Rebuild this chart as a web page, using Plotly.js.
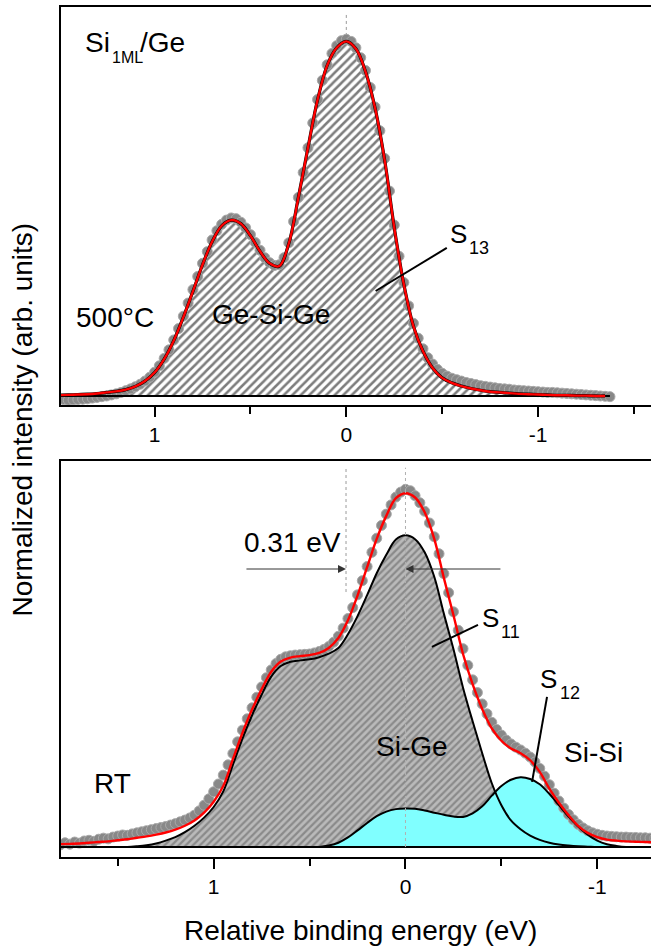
<!DOCTYPE html>
<html>
<head>
<meta charset="utf-8">
<script src="https://cdn.plot.ly/plotly-3.0.1.min.js"></script>
<style>
  html, body { margin: 0; padding: 0; overflow: hidden; background: #fff; }
  #chart { width: 670px; height: 948px; }
</style>
</head>
<body>
<div id="chart"></div>
<script>
// Si 2p core-level spectra of 1 ML Si on Ge: annealed at 500 °C (upper panel)
// and deposited at room temperature (lower panel). Energies are relative binding
// energies in eV, intensities are normalised to the maximum of the fit envelope.

// ---------- 500 °C: measured points ----------
const energy500 = [
  1.475, 1.45, 1.425, 1.4, 1.375, 1.35, 1.325, 1.3, 1.275, 1.25,
  1.225, 1.2, 1.175, 1.15, 1.125, 1.1, 1.075, 1.05, 1.025, 1.0,
  0.975, 0.95, 0.925, 0.9, 0.875, 0.85, 0.825, 0.8, 0.775, 0.75,
  0.725, 0.7, 0.675, 0.65, 0.625, 0.6, 0.575, 0.55, 0.525, 0.5,
  0.475, 0.45, 0.425, 0.4, 0.375, 0.35, 0.325, 0.3, 0.275, 0.25,
  0.225, 0.2, 0.175, 0.15, 0.125, 0.1, 0.075, 0.05, 0.025, 0.0,
  -0.025, -0.05, -0.075, -0.1, -0.125, -0.15, -0.175, -0.2, -0.225, -0.25,
  -0.275, -0.3, -0.325, -0.35, -0.375, -0.4, -0.425, -0.45, -0.475, -0.5,
  -0.525, -0.55, -0.575, -0.6, -0.625, -0.65, -0.675, -0.7, -0.725, -0.75,
  -0.775, -0.8, -0.825, -0.85, -0.875, -0.9, -0.925, -0.95, -0.975, -1.0,
  -1.025, -1.05, -1.075, -1.1, -1.125, -1.15, -1.175, -1.2, -1.225, -1.25,
  -1.275, -1.3, -1.325, -1.35, -1.375
];
const data500 = [
  -0.010, -0.012, -0.011, -0.010, -0.009, -0.008, -0.006, -0.004, -0.002, 0.000,
  0.003, 0.006, 0.010, 0.015, 0.020, 0.026, 0.033, 0.042, 0.053, 0.067,
  0.085, 0.106, 0.130, 0.158, 0.190, 0.225, 0.262, 0.300, 0.337, 0.374,
  0.407, 0.440, 0.466, 0.484, 0.496, 0.502, 0.500, 0.490, 0.474, 0.455,
  0.433, 0.411, 0.390, 0.376, 0.368, 0.370, 0.390, 0.432, 0.492, 0.560,
  0.630, 0.700, 0.770, 0.836, 0.890, 0.934, 0.966, 0.988, 1.002, 1.006,
  1.000, 0.982, 0.954, 0.918, 0.870, 0.815, 0.748, 0.670, 0.578, 0.482,
  0.394, 0.320, 0.254, 0.205, 0.163, 0.133, 0.108, 0.090, 0.075, 0.064,
  0.056, 0.050, 0.046, 0.042, 0.038, 0.035, 0.032, 0.029, 0.027, 0.025,
  0.023, 0.021, 0.020, 0.019, 0.017, 0.016, 0.015, 0.014, 0.013, 0.012,
  0.011, 0.010, 0.010, 0.009, 0.008, 0.007, 0.006, 0.005, 0.004, 0.003,
  0.002, 0.001, 0.000, -0.001, -0.002
];

// ---------- 500 °C: fit (one doublet, S13, which is also the envelope) ----------
const fitEnergy500 = [
  1.5, 1.45, 1.4, 1.35, 1.3, 1.25, 1.2, 1.15, 1.1, 1.05,
  1.0, 0.95, 0.9, 0.85, 0.8, 0.75, 0.7, 0.65, 0.6, 0.55,
  0.5, 0.45, 0.4, 0.35, 0.3, 0.25, 0.2, 0.15, 0.1, 0.05,
  0.0, -0.05, -0.1, -0.15, -0.2, -0.25, -0.3, -0.35, -0.4, -0.45,
  -0.5, -0.55, -0.6, -0.65, -0.7, -0.75, -0.8, -0.85, -0.9, -0.95,
  -1.0, -1.05, -1.1, -1.15, -1.2, -1.25, -1.3, -1.35
];
const s13_500 = [
  0.002, 0.003, 0.004, 0.005, 0.007, 0.010, 0.013, 0.018, 0.027, 0.042,
  0.066, 0.104, 0.156, 0.222, 0.295, 0.370, 0.435, 0.480, 0.496, 0.486,
  0.452, 0.408, 0.374, 0.366, 0.430, 0.560, 0.700, 0.835, 0.932, 0.982,
  1.000, 0.979, 0.915, 0.812, 0.665, 0.475, 0.315, 0.197, 0.126, 0.079,
  0.051, 0.037, 0.028, 0.021, 0.016, 0.012, 0.010, 0.008, 0.006, 0.005,
  0.004, 0.003, 0.002, 0.002, 0.001, 0.001, 0.000, 0.000
];

// ---------- RT: measured points ----------
const energyRT = [
  1.8, 1.775, 1.75, 1.725, 1.7, 1.675, 1.65, 1.625, 1.6, 1.575,
  1.55, 1.525, 1.5, 1.475, 1.45, 1.425, 1.4, 1.375, 1.35, 1.325,
  1.3, 1.275, 1.25, 1.225, 1.2, 1.175, 1.15, 1.125, 1.1, 1.075,
  1.05, 1.025, 1.0, 0.975, 0.95, 0.925, 0.9, 0.875, 0.85, 0.825,
  0.8, 0.775, 0.75, 0.725, 0.7, 0.675, 0.65, 0.625, 0.6, 0.575,
  0.55, 0.525, 0.5, 0.475, 0.45, 0.425, 0.4, 0.375, 0.35, 0.325,
  0.3, 0.275, 0.25, 0.225, 0.2, 0.175, 0.15, 0.125, 0.1, 0.075,
  0.05, 0.025, 0.0, -0.025, -0.05, -0.075, -0.1, -0.125, -0.15, -0.175,
  -0.2, -0.225, -0.25, -0.275, -0.3, -0.325, -0.35, -0.375, -0.4, -0.425,
  -0.45, -0.475, -0.5, -0.525, -0.55, -0.575, -0.6, -0.625, -0.65, -0.675,
  -0.7, -0.725, -0.75, -0.775, -0.8, -0.825, -0.85, -0.875, -0.9, -0.925,
  -0.95, -0.975, -1.0, -1.025, -1.05, -1.075, -1.1, -1.125, -1.15, -1.175,
  -1.2, -1.225, -1.25, -1.275, -1.3
];
const dataRT = [
  0.006, 0.012, 0.008, 0.014, 0.011, 0.017, 0.019, 0.016, 0.022, 0.025,
  0.023, 0.028, 0.031, 0.034, 0.033, 0.037, 0.040, 0.043, 0.046, 0.049,
  0.052, 0.055, 0.058, 0.062, 0.066, 0.071, 0.076, 0.082, 0.090, 0.102,
  0.118, 0.136, 0.156, 0.178, 0.203, 0.232, 0.264, 0.297, 0.330, 0.362,
  0.393, 0.423, 0.452, 0.478, 0.500, 0.518, 0.530, 0.537, 0.540, 0.542,
  0.543, 0.544, 0.545, 0.548, 0.552, 0.558, 0.566, 0.578, 0.595, 0.618,
  0.645, 0.676, 0.712, 0.752, 0.792, 0.832, 0.872, 0.908, 0.940, 0.966,
  0.988, 1.002, 1.010, 1.006, 0.992, 0.972, 0.948, 0.915, 0.876, 0.828,
  0.772, 0.718, 0.664, 0.612, 0.560, 0.513, 0.472, 0.436, 0.404, 0.376,
  0.352, 0.332, 0.316, 0.302, 0.291, 0.282, 0.274, 0.265, 0.254, 0.240,
  0.222, 0.200, 0.176, 0.152, 0.130, 0.110, 0.092, 0.077, 0.064, 0.054,
  0.046, 0.040, 0.036, 0.033, 0.031, 0.030, 0.029, 0.028, 0.028, 0.027,
  0.027, 0.026, 0.026, 0.025, 0.025
];

// ---------- RT: fit envelope and the two doublets S11 (Si-Ge) and S12 (Si-Si) ----------
const fitEnergyRT = [
  1.8, 1.75, 1.7, 1.65, 1.6, 1.55, 1.5, 1.45, 1.4, 1.35,
  1.3, 1.25, 1.2, 1.15, 1.1, 1.05, 1.0, 0.95, 0.9, 0.85,
  0.8, 0.75, 0.7, 0.65, 0.6, 0.55, 0.5, 0.45, 0.4, 0.35,
  0.3, 0.25, 0.2, 0.15, 0.1, 0.05, 0.0, -0.05, -0.1, -0.15,
  -0.2, -0.25, -0.3, -0.35, -0.4, -0.45, -0.5, -0.55, -0.6, -0.65,
  -0.7, -0.75, -0.8, -0.85, -0.9, -0.95, -1.0, -1.05, -1.1, -1.15,
  -1.2, -1.25, -1.3
];
const fitRT = [
  0.008, 0.009, 0.010, 0.012, 0.014, 0.016, 0.019, 0.022, 0.026, 0.030,
  0.035, 0.041, 0.049, 0.060, 0.075, 0.097, 0.128, 0.172, 0.248, 0.322,
  0.388, 0.445, 0.495, 0.524, 0.535, 0.539, 0.542, 0.548, 0.562, 0.590,
  0.640, 0.710, 0.790, 0.870, 0.935, 0.985, 0.999, 0.987, 0.945, 0.870,
  0.760, 0.655, 0.545, 0.460, 0.390, 0.335, 0.300, 0.278, 0.265, 0.245,
  0.212, 0.165, 0.125, 0.090, 0.060, 0.040, 0.028, 0.021, 0.018, 0.016,
  0.015, 0.014, 0.013
];
const s11RT = [
  0.000, 0.000, 0.000, 0.000, 0.000, 0.000, 0.000, 0.000, 0.002, 0.005,
  0.010, 0.018, 0.028, 0.042, 0.060, 0.083, 0.113, 0.157, 0.232, 0.306,
  0.372, 0.430, 0.481, 0.511, 0.523, 0.527, 0.530, 0.536, 0.546, 0.562,
  0.601, 0.652, 0.711, 0.773, 0.825, 0.868, 0.880, 0.869, 0.832, 0.763,
  0.659, 0.559, 0.450, 0.355, 0.265, 0.180, 0.118, 0.075, 0.050, 0.032,
  0.020, 0.012, 0.007, 0.004, 0.002, 0.001, 0.000, 0.000, 0.000, 0.000,
  0.000, 0.000, 0.000
];
const s12RT = [
  0.000, 0.000, 0.000, 0.000, 0.000, 0.000, 0.000, 0.000, 0.000, 0.000,
  0.000, 0.000, 0.000, 0.000, 0.000, 0.000, 0.000, 0.000, 0.000, 0.000,
  0.000, 0.000, 0.000, 0.000, 0.000, 0.000, 0.000, 0.000, 0.004, 0.012,
  0.027, 0.047, 0.068, 0.087, 0.100, 0.107, 0.109, 0.108, 0.103, 0.097,
  0.091, 0.086, 0.085, 0.095, 0.115, 0.145, 0.172, 0.190, 0.197, 0.192,
  0.177, 0.150, 0.118, 0.086, 0.058, 0.035, 0.018, 0.008, 0.003, 0.000,
  0.000, 0.000, 0.000
];

// ---------- axis ticks and marked positions ----------
const tickVals = [1, 0, -1];
const tickText = ['1', '0', '-1'];
const minorTicks500 = [0.5, -0.5, -1.5];
const minorTicksRT = [1.5, 0.5, -0.5];
const shiftS11 = 0.31;   // S11 lies 0.31 eV above S13

const FONT = 'Liberation Sans, Arial, Helvetica, sans-serif';

// ---------- traces ----------
const pointStyle = {
  symbol: 'circle', size: 10, color: '#888888',
  line: { color: '#a9a9a9', width: 1 }
};

const traces = [
  // upper panel
  { x: fitEnergy500, y: s13_500, xaxis: 'x', yaxis: 'y', mode: 'lines',
    line: { width: 0, shape: 'spline' }, fill: 'tozeroy', fillcolor: '#fff',
    fillpattern: { shape: '/', bgcolor: '#ffffff', fgcolor: '#7d7d7d', size: 6, solidity: 0.42 },
    hoverinfo: 'skip' },
  { x: energy500, y: data500, xaxis: 'x', yaxis: 'y', mode: 'markers', marker: pointStyle },
  { x: [fitEnergy500[0], energy500[energy500.length - 1]], y: [0, 0], xaxis: 'x', yaxis: 'y',
    mode: 'lines', line: { color: '#000', width: 2 } },
  { x: fitEnergy500, y: s13_500, xaxis: 'x', yaxis: 'y', mode: 'lines',
    line: { color: '#000', width: 3.2, shape: 'spline' } },
  { x: fitEnergy500, y: s13_500, xaxis: 'x', yaxis: 'y', mode: 'lines',
    line: { color: '#ff0000', width: 2.4, shape: 'spline' } },

  // lower panel
  { x: fitEnergyRT, y: s11RT, xaxis: 'x2', yaxis: 'y2', mode: 'lines',
    line: { width: 0, shape: 'spline' }, fill: 'tozeroy', fillcolor: '#a0a0a0',
    fillpattern: { shape: '/', bgcolor: '#bababa', fgcolor: '#8a8a8a', size: 5, solidity: 0.45 },
    hoverinfo: 'skip' },
  { x: fitEnergyRT, y: s12RT, xaxis: 'x2', yaxis: 'y2', mode: 'lines',
    line: { width: 0, shape: 'spline' }, fill: 'tozeroy', fillcolor: '#80ffff', hoverinfo: 'skip' },
  { x: energyRT, y: dataRT, xaxis: 'x2', yaxis: 'y2', mode: 'markers', marker: pointStyle },
  { x: fitEnergyRT, y: s11RT, xaxis: 'x2', yaxis: 'y2', mode: 'lines',
    line: { color: '#000', width: 2, shape: 'spline' } },
  { x: fitEnergyRT, y: s12RT, xaxis: 'x2', yaxis: 'y2', mode: 'lines',
    line: { color: '#000', width: 2, shape: 'spline' } },
  { x: [energyRT[0], energyRT[energyRT.length - 1]], y: [0, 0], xaxis: 'x2', yaxis: 'y2',
    mode: 'lines', line: { color: '#000', width: 2 } },
  { x: fitEnergyRT, y: fitRT, xaxis: 'x2', yaxis: 'y2', mode: 'lines',
    line: { color: '#ff0000', width: 2.4, shape: 'spline' } }
];

// ---------- axes ----------
function energyAxis(anchor, range, minorVals) {
  return {
    anchor: anchor, range: range, autorange: false,
    showline: true, linecolor: '#000', linewidth: 2, mirror: true,
    ticks: 'outside', ticklen: 10, tickwidth: 2, tickcolor: '#000',
    tickmode: 'array', tickvals: tickVals, ticktext: tickText,
    tickfont: { family: FONT, size: 21, color: '#000' },
    minor: { tickmode: 'array', tickvals: minorVals, ticks: 'outside',
             ticklen: 7, tickwidth: 2, tickcolor: '#000', showgrid: false },
    showgrid: false, zeroline: false
  };
}
function intensityAxis(anchor, domain, range) {
  return {
    anchor: anchor, domain: domain, range: range, autorange: false,
    showline: true, linecolor: '#000', linewidth: 2, mirror: true,
    ticks: '', showticklabels: false, showgrid: false, zeroline: false
  };
}

// ---------- labels ----------
function label(text, x, y, size, ax, opts) {
  return Object.assign({
    text: text, x: x, y: y, xref: ax[0], yref: ax[1],
    xanchor: 'left', yanchor: 'middle', showarrow: false,
    font: { family: FONT, size: size, color: '#000' }
  }, opts || {});
}
const TOP = ['x', 'y'];
const BOT = ['x2', 'y2'];

const annotations = [
  label('Si', 1.371, 0.996, 28, TOP),
  label('1ML', 1.235, 0.955, 16, TOP),
  label('/Ge', 1.089, 0.996, 28, TOP),
  label('500°C', 1.418, 0.220, 28, TOP),
  label('Ge-Si-Ge', 0.713, 0.230, 28, TOP),
  label('S', -0.529, 0.458, 26, TOP),
  label('13', -0.628, 0.418, 18, TOP),

  label('RT', 1.635, 0.178, 28, BOT),
  label('0.31 eV', 0.854, 0.859, 28, BOT),
  label('Si-Ge', 0.164, 0.285, 28, BOT),
  label('Si-Si', -0.816, 0.266, 28, BOT),
  label('S', -0.388, 0.648, 26, BOT),
  label('11', -0.4875, 0.607, 18, BOT),
  label('S', -0.691, 0.475, 26, BOT),
  label('12', -0.795, 0.435, 18, BOT),

  // arrows marking the 0.31 eV shift
  { x: shiftS11, y: 0.785, ax: 0.837, ay: 0.785, xref: 'x2', yref: 'y2', axref: 'x2', ayref: 'y2',
    text: '', showarrow: true, arrowhead: 2, arrowsize: 1.6, arrowwidth: 1, arrowcolor: '#333' },
  { x: 0, y: 0.785, ax: -0.503, ay: 0.785, xref: 'x2', yref: 'y2', axref: 'x2', ayref: 'y2',
    text: '', showarrow: true, arrowhead: 2, arrowsize: 1.6, arrowwidth: 1, arrowcolor: '#333' },

  // axis titles
  { text: 'Relative binding energy (eV)', x: 0.5, y: -0.087, xref: 'paper', yref: 'paper',
    xanchor: 'center', yanchor: 'middle', showarrow: false,
    font: { family: FONT, size: 28, color: '#000' } },
  { text: 'Normalized intensity (arb. units)', x: -0.0651, y: 0.5147, xref: 'paper', yref: 'paper',
    xanchor: 'center', yanchor: 'middle', textangle: -90, showarrow: false,
    font: { family: FONT, size: 28, color: '#000' } }
];

const shapes = [
  // component positions
  { type: 'line', xref: 'x', yref: 'y', x0: 0, x1: 0, y0: 0, y1: 1.075, layer: 'below',
    line: { color: '#9a9a9a', width: 1, dash: 'dot' } },
  { type: 'line', xref: 'x2', yref: 'y2', x0: 0, x1: 0, y0: 0, y1: 1.071, layer: 'above',
    line: { color: '#b0b0b0', width: 1, dash: 'dot' } },
  { type: 'line', xref: 'x2', yref: 'y2', x0: shiftS11, x1: shiftS11, y0: 0.72, y1: 1.071,
    line: { color: '#9a9a9a', width: 1, dash: 'dot' } },
  // leader lines of the component labels
  { type: 'line', xref: 'x', yref: 'y', x0: -0.524, y0: 0.4175, x1: -0.153, y1: 0.296,
    line: { color: '#000', width: 2 } },
  { type: 'line', xref: 'x2', yref: 'y2', x0: -0.378, y0: 0.627, x1: -0.138, y1: 0.565,
    line: { color: '#000', width: 2 } },
  { type: 'line', xref: 'x2', yref: 'y2', x0: -0.738, y0: 0.424, x1: -0.66, y1: 0.184,
    line: { color: '#000', width: 2 } }
];

const layout = {
  width: 670, height: 948,
  margin: { l: 61, r: 10, t: 7, b: 91 },
  paper_bgcolor: '#ffffff', plot_bgcolor: '#ffffff',
  showlegend: false,
  font: { family: FONT, size: 21, color: '#000' },
  xaxis: energyAxis('y', [1.488, -1.636], minorTicks500),
  yaxis: intensityAxis('x', [0.5318, 1], [-0.0254, 1.097]),
  xaxis2: energyAxis('y2', [1.796, -1.327], minorTicksRT),
  yaxis2: intensityAxis('x2', [0, 0.4659], [-0.0282, 1.090]),
  annotations: annotations,
  shapes: shapes
};

Plotly.newPlot('chart', traces, layout, { staticPlot: true, displayModeBar: false });
</script>
</body>
</html>
